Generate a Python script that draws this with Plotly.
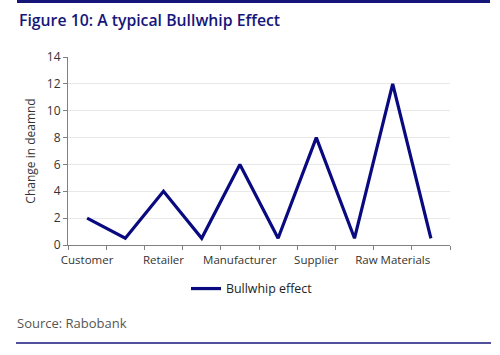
import plotly.graph_objects as go

categories = ["Customer", " ", "Retailer", "  ", "Manufacturer", "   ", "Supplier", "    ", "Raw Materials", "     "]
bullwhip = [2, 0.5, 4, 0.5, 6, 0.5, 8, 0.5, 12, 0.5]
y_ticks = [0, 2, 4, 6, 8, 10, 12, 14]

navy = "#0a0a80"
font = "Open Sans"

W, H = 500, 355
L, T, PW, PH = 68, 57, 382, 188
BASE = T + PH  # y of zero line in pixels


def py(y_ref):
    return (BASE - y_ref) / PH


def px(x_ref):
    return (x_ref - L) / PW


fig = go.Figure()
fig.add_trace(go.Scatter(
    x=categories, y=bullwhip, mode="lines", name="Bullwhip effect",
    line=dict(color=navy, width=3.2),
))

fig.update_layout(
    width=W, height=H,
    margin=dict(l=L, r=W - L - PW, t=T, b=H - T - PH, autoexpand=False),
    paper_bgcolor="white", plot_bgcolor="white",
    font=dict(family=font, size=11.5, color="#333333"),
    showlegend=True,
    legend=dict(orientation="h", x=px(252), xanchor="center", y=py(289), yanchor="middle",
                font=dict(size=12.4, color="#222222")),
    xaxis=dict(
        type="category", range=[-0.5, 9.5], tickson="boundaries", ticks="outside", ticklen=4,
        tickcolor="#808080", showline=True, linecolor="#808080", linewidth=1, tickangle=0,
        showgrid=False, tickfont=dict(size=11.5, color="#333333"), fixedrange=True,
        automargin=False, ticklabelstandoff=4,
    ),
    yaxis=dict(
        range=[0, 14], tickvals=y_ticks, ticks="outside", ticklen=4, tickcolor="#808080",
        showline=True, linecolor="#808080", linewidth=1, fixedrange=True,
        showgrid=True, gridcolor="#e8e8e8", gridwidth=1, zeroline=False,
        tickfont=dict(size=12, color="#333333"), automargin=False,
        title=dict(text="Change in deamnd", font=dict(size=12, color="#333333"), standoff=8),
    ),
)

fig.add_annotation(
    text="Figure 10: A typical Bullwhip Effect", xref="paper", yref="paper",
    x=px(17), y=py(20), xanchor="left", yanchor="middle",
    showarrow=False, font=dict(family=font, size=15.8, color="#16167a", weight=600),
)
fig.add_annotation(
    text="Source: Rabobank", xref="paper", yref="paper",
    x=px(15), y=py(323), xanchor="left", yanchor="middle",
    showarrow=False, font=dict(family=font, size=13, color="#555555"),
)
fig.add_shape(type="line", xref="paper", yref="paper",
              x0=px(17), x1=px(490), y0=py(1.5), y1=py(1.5),
              line=dict(color="#16167a", width=3))
fig.add_shape(type="line", xref="paper", yref="paper",
              x0=px(16), x1=px(491), y0=py(343), y1=py(343),
              line=dict(color="#16167a", width=1.5))

fig.write_html("out.html", config={"displayModeBar": False},
               post_script="document.body.style.margin='0';")
